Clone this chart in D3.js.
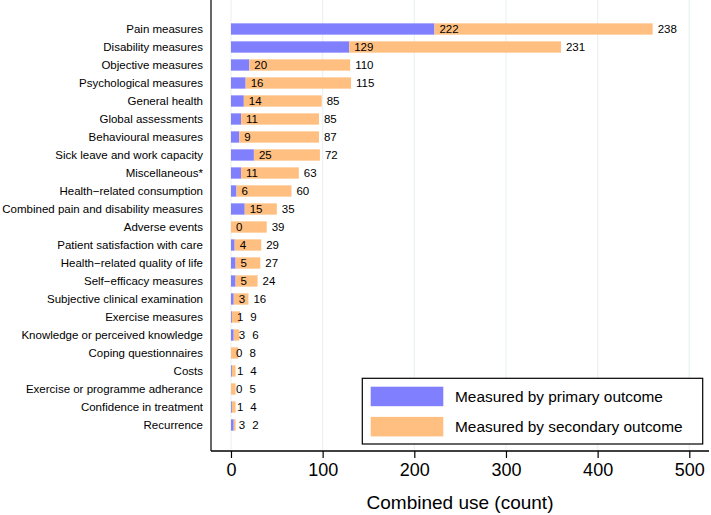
<!DOCTYPE html>
<html>
<head>
<meta charset="utf-8">
<script src="https://cdn.jsdelivr.net/npm/d3@7"></script>
<style>
  html, body { margin: 0; padding: 0; background: #fff; }
  svg { display: block; }
  text { font-family: "Liberation Sans", Arial, Helvetica, sans-serif; fill: #000; }
</style>
</head>
<body>
<svg id="chart" width="711" height="515"></svg>
<script>
const categories = [
  "Pain measures", "Disability measures", "Objective measures", "Psychological measures",
  "General health", "Global assessments", "Behavioural measures", "Sick leave and work capacity",
  "Miscellaneous*", "Health\u2212related consumption", "Combined pain and disability measures",
  "Adverse events", "Patient satisfaction with care", "Health\u2212related quality of life",
  "Self\u2212efficacy measures", "Subjective clinical examination", "Exercise measures",
  "Knowledge or perceived knowledge", "Coping questionnaires", "Costs",
  "Exercise or programme adherance", "Confidence in treatment", "Recurrence"
];
const primary   = [222, 129, 20, 16, 14, 11, 9, 25, 11, 6, 15, 0, 4, 5, 5, 3, 1, 3, 0, 1, 0, 1, 3];
const secondary = [238, 231, 110, 115, 85, 85, 87, 72, 63, 60, 35, 39, 29, 27, 24, 16, 9, 6, 8, 4, 5, 4, 2];
const xTicks = [0, 100, 200, 300, 400, 500];
const seriesNames = ["Measured by primary outcome", "Measured by secondary outcome"];
const seriesColors = ["#8080ff", "#ffbf80"];
const xTitle = "Combined use (count)";

(function () {
const rows = categories.map((c, i) => ({ cat: c, p: primary[i], s: secondary[i] }));

const svg = d3.select("#chart");
const pLeft = 211, pRight = 709, pTop = 0, pBottom = 451;

const x = d3.scaleLinear().domain([-21.8, 521.5]).range([pLeft, pRight]);
const y = d3.scaleBand().domain(categories).range([20, 434]).paddingInner(0.372).paddingOuter(0.186);

// gridlines
svg.append("g").selectAll("line").data(xTicks).join("line")
  .attr("x1", d => x(d)).attr("x2", d => x(d))
  .attr("y1", pTop).attr("y2", pBottom)
  .attr("stroke", "#eaf2f3").attr("stroke-width", 1.2);

// category labels, sized so the longest fits the reference width
const catG = svg.append("g");
const cats = catG.selectAll("text").data(rows).join("text")
  .attr("x", 203).attr("y", d => y(d.cat) + y.bandwidth() / 2)
  .attr("dy", "0.36em").attr("text-anchor", "end")
  .style("font-size", "12px").text(d => d.cat);
let maxW = 0;
cats.each(function () { maxW = Math.max(maxW, this.getComputedTextLength()); });
const labelSize = 12 * 201 / maxW;
cats.style("font-size", labelSize + "px");

// bars
const g = svg.append("g");
g.selectAll("rect.p").data(rows).join("rect").attr("class", "p")
  .attr("x", x(0)).attr("y", d => y(d.cat))
  .attr("width", d => x(d.p) - x(0)).attr("height", y.bandwidth())
  .attr("fill", seriesColors[0]);
g.selectAll("rect.s").data(rows).join("rect").attr("class", "s")
  .attr("x", d => x(d.p)).attr("y", d => y(d.cat))
  .attr("width", d => x(d.p + d.s) - x(d.p)).attr("height", y.bandwidth())
  .attr("fill", seriesColors[1]);

// value labels
const pl = g.selectAll("text.pl").data(rows).join("text").attr("class", "pl")
  .attr("x", d => x(d.p) + 5).attr("y", d => y(d.cat) + y.bandwidth() / 2)
  .attr("dy", "0.36em").style("font-size", labelSize + "px").text(d => d.p);
const pEnd = [];
pl.each(function (d, i) { pEnd[i] = x(d.p) + 5 + this.getComputedTextLength(); });
g.selectAll("text.sl").data(rows).join("text").attr("class", "sl")
  .attr("x", (d, i) => Math.max(x(d.p + d.s) + 5, pEnd[i] + 7))
  .attr("y", d => y(d.cat) + y.bandwidth() / 2)
  .attr("dy", "0.36em").style("font-size", labelSize + "px").text(d => d.s);

// left axis line
svg.append("line").attr("x1", pLeft).attr("x2", pLeft).attr("y1", pTop).attr("y2", pBottom)
  .attr("stroke", "#000").attr("stroke-width", 1.2);

// bottom axis
const xAxis = d3.axisBottom(x).tickValues(xTicks).tickSize(7).tickPadding(5).tickSizeOuter(0);
const ax = svg.append("g").attr("transform", `translate(0,${pBottom})`).call(xAxis);
ax.select(".domain").attr("stroke", "#000").attr("stroke-width", 1.4)
  .attr("d", `M${pLeft},0H${pRight}`);
ax.selectAll(".tick line").attr("stroke", "#000").attr("stroke-width", 1.2);
ax.selectAll(".tick text").attr("fill", "#000")
  .style("font-family", '"Liberation Sans", Arial, sans-serif')
  .style("font-size", "18px");

svg.append("text").attr("x", (pLeft + pRight) / 2).attr("y", 509)
  .attr("text-anchor", "middle").style("font-size", "19px").text(xTitle);

// legend
const lg = svg.append("g");
lg.append("rect").attr("x", 362.3).attr("y", 378.3).attr("width", 340.4).attr("height", 65.7)
  .attr("fill", "#fff").attr("stroke", "#000").attr("stroke-width", 1.2);
seriesNames.forEach((name, i) => {
  const yy = 386.7 + i * 30.2;
  lg.append("rect").attr("x", 370.7).attr("y", yy).attr("width", 72.6).attr("height", 19.5)
    .attr("fill", seriesColors[i]);
  lg.append("text").attr("x", 455).attr("y", yy + 9.8).attr("dy", "0.36em")
    .style("font-size", "15.4px").text(name);
});
})();
</script>
</body>
</html>
